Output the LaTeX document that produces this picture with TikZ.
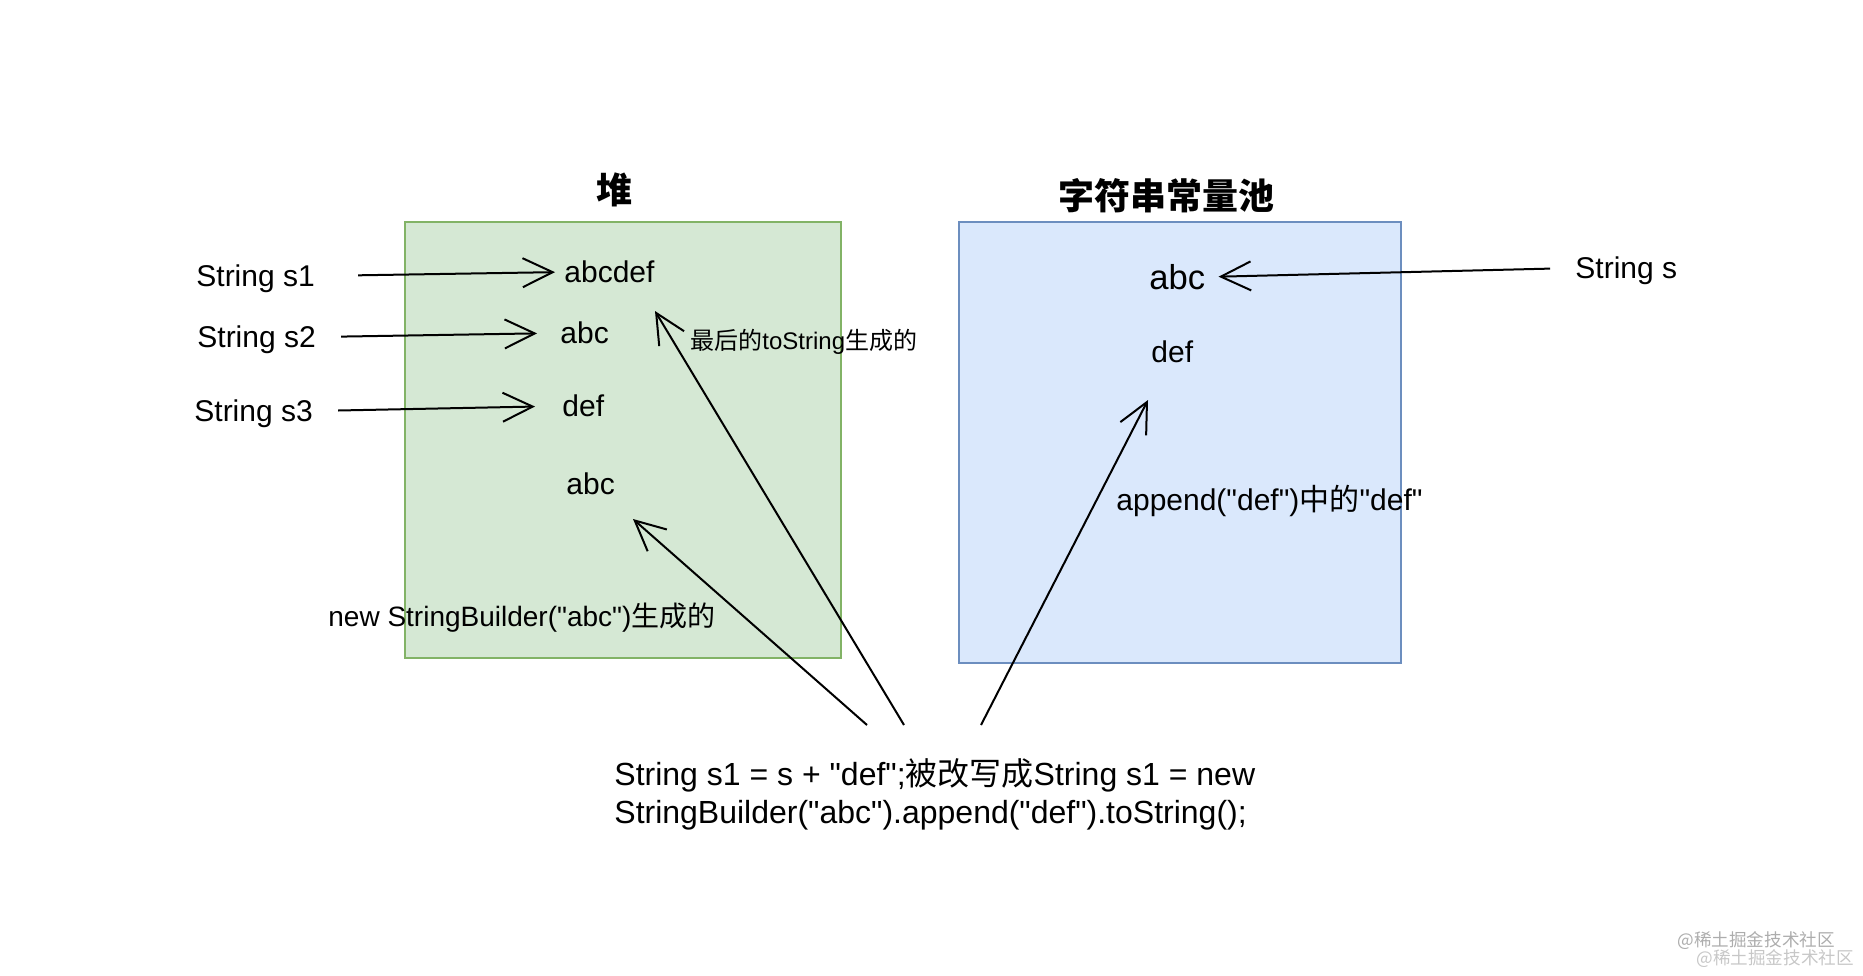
\documentclass[tikz,border=0pt]{standalone}
\usepackage{fontspec}
\setmainfont{Liberation Sans}[Ligatures=TeXOff]
\newfontfamily\cjk{Noto Sans CJK SC}
\usetikzlibrary{arrows.meta,positioning}
\usepackage{xcolor}
\definecolor{heapfill}{HTML}{D5E8D4}
\definecolor{heapline}{HTML}{82B366}
\definecolor{poolfill}{HTML}{DAE8FC}
\definecolor{poolline}{HTML}{6C8EBF}

\begin{document}
\begin{tikzpicture}[
    x=0.5pt, y=-0.5pt,
    area/.style={line width=1pt},
    txt/.style={inner sep=0pt, anchor=west, font=\fontsize{15}{18}\selectfont},
    note/.style={txt, font=\fontsize{14}{17}\selectfont},
    title/.style={inner sep=0pt, font=\fontsize{18}{22}\selectfont\cjk\bfseries},
    ptr/.style={-{Straight Barb[length=15pt, width=14.5pt]}, line width=1pt},
    wmark/.style={inner sep=0pt, anchor=west, font=\fontsize{8.8}{10}\selectfont\cjk}
  ]
  \useasboundingbox (0,0) rectangle (1863,975);

  %% Heap and constant pool
  \filldraw[area, fill=heapfill, draw=heapline] (405,222) rectangle (841,658);
  \filldraw[area, fill=poolfill, draw=poolline] (959,222) rectangle (1401,663);
  \node[title] (heap) at (614,190) {堆};
  \node[title] (pool) at (1166,196) {字符串常量池};

  %% References on the left
  \node[txt] (s1) at (196,279) {String s1};
  \node[txt] (s2) at (197,340) {String s2};
  \node[txt] (s3) at (194,414) {String s3};

  %% Objects in the heap
  \node[txt] (habcdef) at (564,272) {abcdef};
  \node[txt] (habc) at (560,333) {abc};
  \node[txt] (hdef) at (562,406) {def};
  \node[txt] (hsb) at (566,484) {abc};
  \node[note, font=\fontsize{12}{14}\selectfont] (tostr) at (690,342)
        {{\cjk 最后的}toString{\cjk 生成的}};
  \node[note] (sbnote) at (328,618) {new StringBuilder("abc"){\cjk 生成的}};

  %% Constant pool
  \node[txt, font=\fontsize{17.3}{20}\selectfont] (pabc) at (1149,277) {abc};
  \node[txt] (pdef) at (1151,352) {def};
  \node[txt] (apnote) at (1116,501) {append("def"){\cjk 中的}"def"};
  \node[txt] (s) at (1575,271) {String s};

  %% Rewritten statement
  \node[txt, align=left, font=\fontsize{16}{19}\selectfont] (code) at (614,794)
        {String s1 = s + "def";{\cjk 被改写成}String s1 = new\\
         StringBuilder("abc").append("def").toString();};

  \draw[ptr, shorten <=21.5pt, shorten >=4.5pt] ([yshift=1.5pt]s1.east) -- (habcdef.west);
  \draw[ptr, shorten <=12.5pt, shorten >=11.5pt] ([yshift=1.5pt]s2.east) -- (habc.west);
  \draw[ptr, shorten <=12.5pt, shorten >=13.5pt] ([yshift=1.5pt]s3.east) -- (hdef.west);
  \draw[ptr, shorten <=12.5pt, shorten >=6.5pt] ([yshift=1.5pt]s.west) -- (pabc.east);

  %% From the statement up to what it creates
  \coordinate (from1) at (867,725);
  \coordinate (from2) at (904,725);
  \coordinate (from3) at (981,725);
  \coordinate (to1) at (633,519);
  \coordinate (to2) at (655,311);
  \coordinate (to3) at (1148,400);
  \draw[ptr] (from1) -- (to1);
  \draw[ptr] (from2) -- (to2);
  \draw[ptr] (from3) -- (to3);

  %% Watermark
  \node[wmark, text=black!32] (wm1) at (1677,941) {@稀土掘金技术社区};
  \node[wmark, text=black!22] (wm2) at (1696,959) {@稀土掘金技术社区};

\end{tikzpicture}
\end{document}
